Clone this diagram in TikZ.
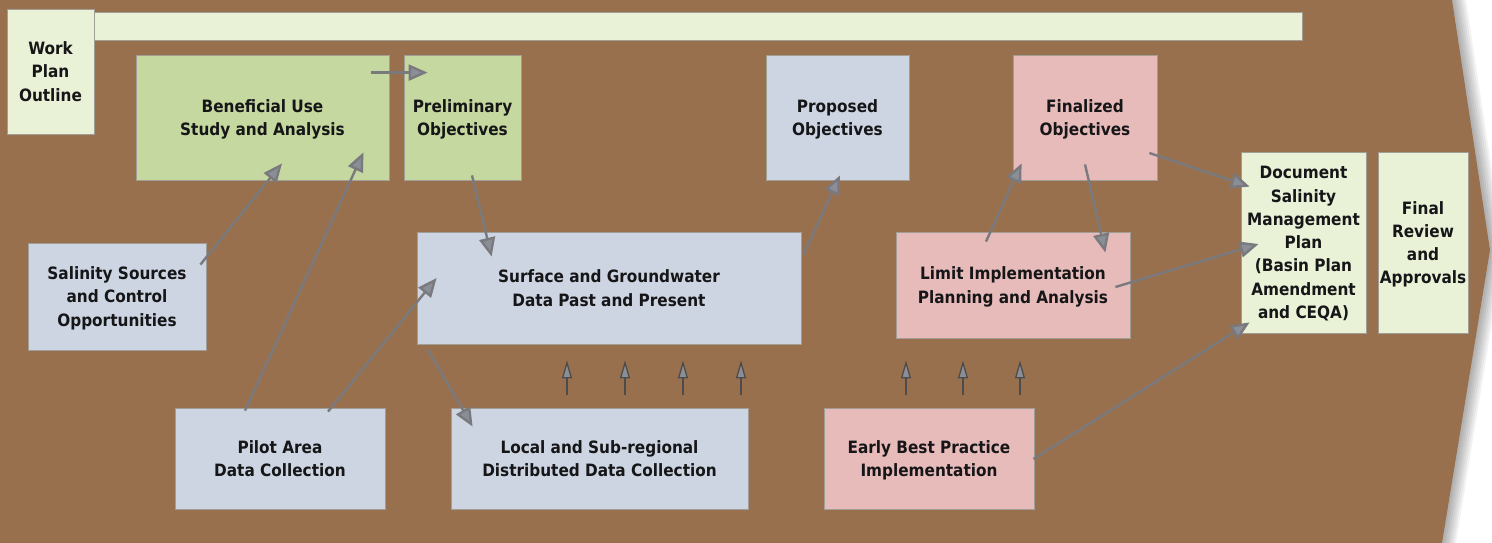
\documentclass[tikz,border=0pt]{standalone}
\usepackage{fontspec}
\setmainfont{DejaVu Sans Condensed}
\usepackage{tikz}
\usetikzlibrary{calc,arrows.meta}

\definecolor{brownbg}{RGB}{152,112,77}
\definecolor{palegreen}{RGB}{233,242,215}
\definecolor{leafgreen}{RGB}{197,216,159}
\definecolor{greyblue}{RGB}{205,213,226}
\definecolor{rosepink}{RGB}{232,187,187}
\definecolor{edgegrey}{RGB}{160,158,150}
\definecolor{arrowgrey}{RGB}{122,122,126}
\definecolor{tipgrey}{RGB}{138,142,150}
\definecolor{inkblack}{RGB}{22,22,24}

\begin{document}
\begin{tikzpicture}[x=1pt,y=-1pt,
  stage/.style={draw=edgegrey,line width=0.8pt,align=center,inner sep=0pt,
    text depth=0pt,text=inkblack,font=\fontsize{17pt}{23.3pt}\selectfont\bfseries},
  pale/.style={stage,fill=palegreen},
  leaf/.style={stage,fill=leafgreen},
  data/.style={stage,fill=greyblue},
  rose/.style={stage,fill=rosepink},
  flow/.style={draw=arrowgrey,line width=2.4pt,
    -{Triangle[length=19pt,width=16pt,fill=tipgrey]}},
  riser/.style={draw=black!70,line width=1.3pt,
    -{Triangle[length=18pt,width=10pt,fill=tipgrey]}}]
\useasboundingbox (0,0) rectangle (1492,543);

% Background chevron with shadow
\foreach \s in {2,4,...,14}
  \fill[black,opacity=0.05,xshift=\s pt] (0,0) -- (1452,0) -- (1490,250) -- (1442,543) -- (0,543) -- cycle;
\fill[brownbg] (0,0) -- (1452,0) -- (1490,250) -- (1442,543) -- (0,543) -- cycle;

% Top row
\node[pale,minimum width=87pt,minimum height=125pt] (outline) at (50.5,71.5) {Work\\Plan\\Outline};
\node[pale,minimum width=1208pt,minimum height=28pt] (bar) at (698,26) {};
\node[leaf,minimum width=253pt,minimum height=125pt] (benuse) at (262.5,117.5) {Beneficial Use\\Study and Analysis};
\node[leaf,minimum width=117pt,minimum height=125pt] (prelim) at (462.5,117.5) {Preliminary\\Objectives};
\node[data,minimum width=143pt,minimum height=125pt] (proposed) at (837.5,117.5) {Proposed\\Objectives};
\node[rose,minimum width=144pt,minimum height=125pt] (final) at (1085,117.5) {Finalized\\Objectives};

% Middle row
\node[data,minimum width=178pt,minimum height=107pt] (sources) at (117,296.5) {Salinity Sources\\and Control\\Opportunities};
\node[data,minimum width=384pt,minimum height=112pt] (surface) at (609,288) {Surface and Groundwater\\Data Past and Present};
\node[rose,minimum width=234pt,minimum height=106pt] (limit) at (1013,285) {Limit Implementation\\Planning and Analysis};
\node[pale,minimum width=125pt,minimum height=181pt] (smp) at (1303.5,242.5) {Document\\Salinity\\Management\\Plan\\(Basin Plan\\Amendment\\and CEQA)};
\node[pale,minimum width=90pt,minimum height=181pt] (review) at (1423,242.5) {Final\\Review\\and\\Approvals};

% Bottom row
\node[data,minimum width=210pt,minimum height=101pt] (pilot) at (280,458.5) {Pilot Area\\Data Collection};
\node[data,minimum width=297pt,minimum height=101pt] (local) at (599.5,458.5) {Local and Sub-regional\\Distributed Data Collection};
\node[rose,minimum width=210pt,minimum height=101pt] (early) at (929,458.5) {Early Best Practice\\Implementation};

% Connectors
\draw[flow] ($(benuse.north east)+(-18,18)$) -- ($(prelim.north west)+(24,18)$);
\draw[flow] ($(sources.north east)+(-6,22)$) -- ($(benuse.south)+(19.5,-17)$);
\draw[flow] ($(pilot.north)+(-35,3)$) -- ($(benuse.south east)+(-26,-28)$);
\draw[flow] ($(pilot.north)+(48,4)$) -- ($(surface.west)+(20,-10)$);
\draw[flow] ($(prelim.south)+(9.5,-5)$) -- ($(surface.north west)+(75,25)$);
\draw[flow] ($(surface.south west)+(11,5)$) -- ($(local.north west)+(22,19)$);
\draw[flow] ($(surface.north east)+(2,23)$) -- ($(proposed.south)+(2.5,-5)$);
\draw[flow] ($(limit.north)+(-27,10)$) -- ($(final.south west)+(9,-17)$);
\draw[flow] ($(final.south)+(0,-16)$) -- ($(limit.north east)+(-25,21)$);
\draw[flow] ($(final.east)+(-8,35.5)$) -- ($(smp.north west)+(9,35)$);
\draw[flow] ($(limit.east)+(-15,2)$) -- ($(smp.west)+(18,1.5)$);
\draw[flow] ($(early.east)+(-1,0.5)$) -- ($(smp.south west)+(9,-11)$);

% Data feeding up
\foreach \x in {567,625,683,741}
  \draw[riser] ($(local.north -| \x,0)+(0,-13)$) -- ($(surface.south -| \x,0)+(0,16)$);
\foreach \x in {906,963,1020}
  \draw[riser] ($(early.north -| \x,0)+(0,-13)$) -- ($(limit.south -| \x,0)+(0,22)$);
\end{tikzpicture}
\end{document}
